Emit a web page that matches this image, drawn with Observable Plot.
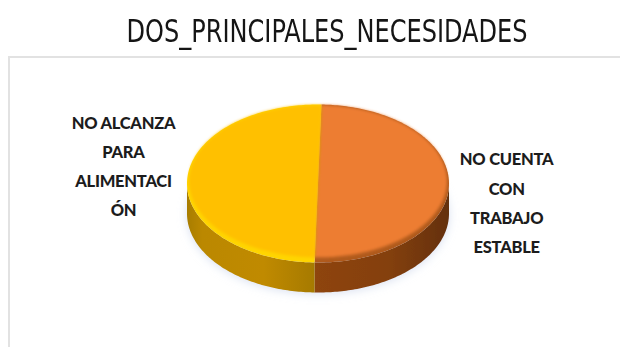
<!DOCTYPE html>
<html lang="es">
<head>
<meta charset="utf-8">
<script src="https://cdn.jsdelivr.net/npm/d3@7"></script>
<script src="https://cdn.jsdelivr.net/npm/@observablehq/plot@0.6"></script>
<style>
html,body{margin:0;padding:0;background:#fff;overflow:hidden}
#title{height:56px;box-sizing:border-box;text-align:center;white-space:nowrap;
  font-family:"DejaVu Sans Condensed","DejaVu Sans",sans-serif;font-size:32px;color:#151515;
  line-height:32px;padding:15px 0 0 34px}
#title span{display:inline-block;transform:scaleX(.835);transform-origin:center}
#frame{margin-left:8px;border-left:2px solid #e2e2e2;border-top:2px solid #e2e2e2;height:289px;overflow:hidden}
#frame svg{display:block}
</style>
</head>
<body>
<div id="title"><span>DOS_PRINCIPALES_NECESIDADES</span></div>
<div id="frame"></div>
<script>
const categories = ["NO CUENTA\nCON\nTRABAJO\nESTABLE", "NO ALCANZA\nPARA\nALIMENTACI\nÓN"];
const values = [50, 50];

const W = 610, H = 289, RX = 131, RY = 79, CX = 307.5, CY = 125;
const DEPTH = 30 / RY, ROT = 1.5 * Math.PI / 180, STEP = Math.PI / 180;

const arcs = d3.pie().sort(null).startAngle(ROT).endAngle(2 * Math.PI + ROT)(values);

const rim = (t, dy = 0, kx = 1, ky = 1) => ({x: kx * Math.sin(t), y: ky * Math.cos(t) + dy});
const sweep = (a, b) => {
  const n = Math.max(1, Math.ceil((b - a) / STEP));
  return d3.range(n + 1).map(i => a + (b - a) * i / n);
};
const sector = (a, dy = 0, kx = 1, ky = 1) =>
  [{x: 0, y: dy}, ...sweep(a.startAngle, a.endAngle).map(t => rim(t, dy, kx, ky))];
const wall = (a, b) => [
  ...sweep(a, b).map(t => rim(t)),
  ...sweep(a, b).reverse().map(t => rim(t, -DEPTH))
];

// The front of the disc spans from the right edge round to the left edge
const FRONT_A = Math.PI / 2, FRONT_B = 3 * Math.PI / 2;
const split = arcs[0].endAngle;
const wallOrange = wall(FRONT_A, split);
const wallYellow = wall(split, FRONT_B);
const outline = sweep(0, 2 * Math.PI).map(t => rim(t, -DEPTH - 0.015));

const blurred = id => (index, scales, vals, dims, ctx, next) => {
  const g = next(index, scales, vals, dims, ctx);
  g.setAttribute("filter", `url(#${id})`);
  return g;
};
const area = (pts, fill, extra = {}) =>
  Plot.line(pts, {x: "x", y: "y", fill, stroke: "none", ...extra});

const defs = () => {
  const d = d3.create("svg:defs");
  d.html(`
    <filter id="soft" x="-10%" y="-10%" width="120%" height="120%"><feGaussianBlur stdDeviation="0.6"/></filter>
    <filter id="bevel" x="-10%" y="-10%" width="120%" height="120%"><feGaussianBlur stdDeviation="1.5"/></filter>
    <filter id="shadow" x="-20%" y="-20%" width="140%" height="140%"><feGaussianBlur stdDeviation="5"/></filter>
    <linearGradient id="wo" x1="0" x2="1" y1="0" y2="0">
      <stop offset="0" stop-color="#8e4410"/><stop offset=".55" stop-color="#84400f"/>
      <stop offset="1" stop-color="#643010"/>
    </linearGradient>
    <linearGradient id="wy" x1="0" x2="1" y1="0" y2="0">
      <stop offset="0" stop-color="#a87d00"/><stop offset=".12" stop-color="#bb8800"/>
      <stop offset=".6" stop-color="#c08a00"/><stop offset="1" stop-color="#a67a00"/>
    </linearGradient>`);
  return d.node();
};

const plot = Plot.plot({
  width: W, height: H, margin: 0,
  x: {domain: [-CX / RX, (W - CX) / RX], range: [0, W], axis: null},
  y: {domain: [-(H - CY) / RY, CY / RY], range: [H, 0], axis: null},
  style: {background: "#fff", letterSpacing: "-0.25px"},
  marks: [
    defs,
    area(outline, "#c9d3ea", {fillOpacity: 0.7, render: blurred("shadow")}),
    area(wallOrange, "url(#wo)", {render: blurred("soft")}),
    area(wallYellow, "url(#wy)", {render: blurred("soft")}),
    area(sector(arcs[0]), "#b05a1c", {render: blurred("soft")}),
    area(sector(arcs[1]), "#ffd500", {render: blurred("soft")}),
    area(sector(arcs[0], 0.03, 0.985, 0.965), "#ed7d31", {render: blurred("bevel")}),
    area(sector(arcs[1], 0.03, 0.985, 0.965), "#ffc000", {render: blurred("bevel")}),
    Plot.text(categories, {
      x: [1.44, -1.485], y: [-0.208, 0.258], text: d => d,
      fontFamily: "Lato, Carlito, sans-serif", fontWeight: 900, fontSize: 16.5,
      lineHeight: 1.77, fill: "#1c1c1c", textAnchor: "middle", frameAnchor: "middle"
    })
  ]
});
document.getElementById("frame").append(plot);
</script>
</body>
</html>
